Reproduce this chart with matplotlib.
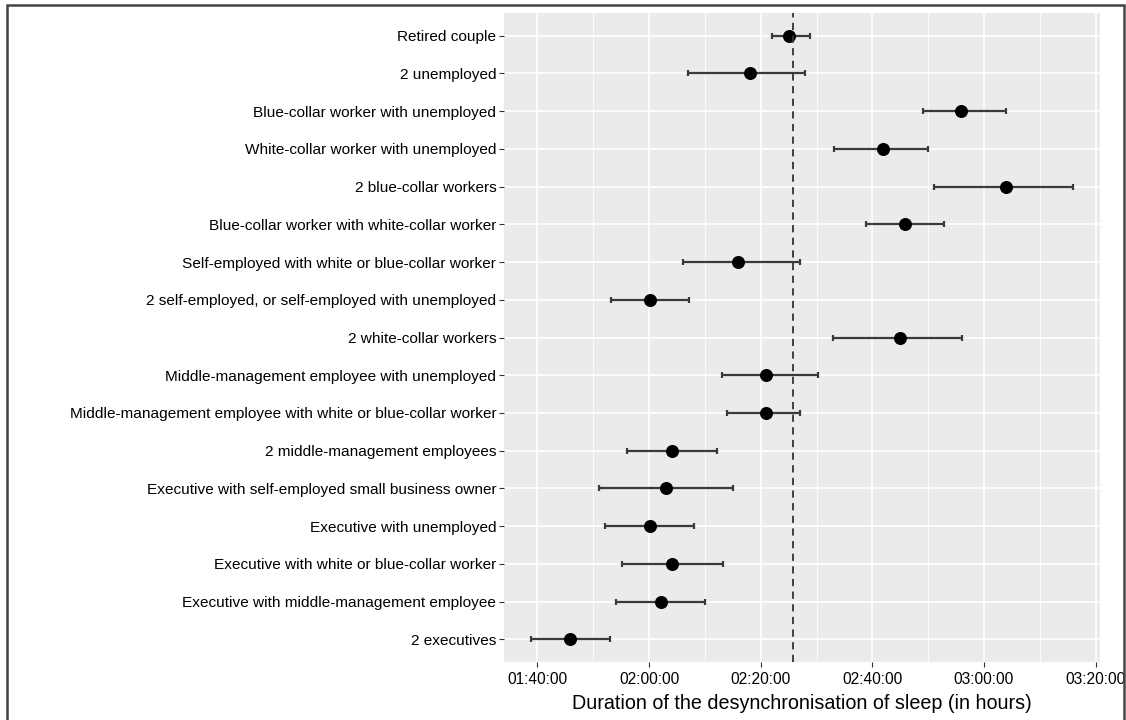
import numpy as np
import matplotlib.pyplot as plt
from matplotlib.ticker import FuncFormatter

plt.rcParams['font.family'] = ['Liberation Sans', 'DejaVu Sans']

# household types, top to bottom
groups = [
    "Retired couple",
    "2 unemployed",
    "Blue-collar worker with unemployed",
    "White-collar worker with unemployed",
    "2 blue-collar workers",
    "Blue-collar worker with white-collar worker",
    "Self-employed with white or blue-collar worker",
    "2 self-employed, or self-employed with unemployed",
    "2 white-collar workers",
    "Middle-management employee with unemployed",
    "Middle-management employee with white or blue-collar worker",
    "2 middle-management employees",
    "Executive with self-employed small business owner",
    "Executive with unemployed",
    "Executive with white or blue-collar worker",
    "Executive with middle-management employee",
    "2 executives",
]

# durations in minutes
mean_min = [145.0, 138.0, 175.9, 161.9, 183.9, 165.9, 136.0, 120.1, 164.9,
            141.0, 141.0, 124.1, 123.1, 120.1, 124.1, 122.1, 105.9]
low_min = [142.0, 127.0, 169.0, 153.1, 171.0, 158.9, 126.1, 113.1, 153.0,
           133.1, 134.0, 116.1, 111.0, 112.1, 115.1, 114.1, 98.9]
high_min = [148.9, 148.0, 184.0, 170.0, 196.0, 172.9, 147.0, 127.1, 176.0,
            150.2, 147.0, 132.1, 135.1, 128.1, 133.2, 130.1, 113.0]
overall_mean = 145.8

major_ticks = [100, 120, 140, 160, 180, 200]
minor_ticks = [110, 130, 150, 170, 190]

fig = plt.figure(figsize=(11.26, 7.2), dpi=100)
ax = fig.add_axes([504 / 1126, 1 - 662 / 720, 596 / 1126, 649 / 720])
ax.set_facecolor('#EBEBEB')

y = np.arange(len(groups))
mean = np.array(mean_min)
lo = np.array(low_min)
hi = np.array(high_min)

for t in minor_ticks:
    ax.axvline(t, color='white', lw=0.6, zorder=0)
for t in major_ticks:
    ax.axvline(t, color='white', lw=1.2, zorder=0)
for yy in y:
    ax.axhline(yy, color='white', lw=1.2, zorder=0)

ax.errorbar(mean, y, xerr=[mean - lo, hi - mean], fmt='none',
            ecolor='#3a3a3a', elinewidth=1.6, capsize=2.5, capthick=1.6, zorder=2)
ax.scatter(mean, y, s=70, color='black', zorder=3)
ax.axvline(overall_mean, color='#333333', lw=1.3, ls=(0, (4, 3)), zorder=4)

ax.set_xlim(94.0, 200.8)
ax.set_ylim(len(groups) - 0.4, -0.6)
ax.set_xticks(major_ticks)
ax.xaxis.set_major_formatter(FuncFormatter(
    lambda v, p: "%02d:%02d:00" % (int(v) // 60, int(v) % 60)))
ax.set_yticks(y)
ax.set_yticklabels(groups)
ax.tick_params(axis='both', length=3.5, width=0.8, color='#333333',
               labelcolor='black', pad=2)
ax.tick_params(axis='y', labelsize=11.1)
ax.tick_params(axis='x', labelsize=11.2, pad=4)
for s in ax.spines.values():
    s.set_visible(False)
ax.set_xlabel("Duration of the desynchronisation of sleep (in hours)",
              fontsize=14.2, labelpad=5)

# outer frame
fig.add_artist(plt.Rectangle((7 / 1126, -0.05), 1117 / 1126, 1.05 - 5 / 720,
                             transform=fig.transFigure, fill=False,
                             edgecolor='#444444', lw=1.8))

fig.savefig('out.png', dpi=100)
